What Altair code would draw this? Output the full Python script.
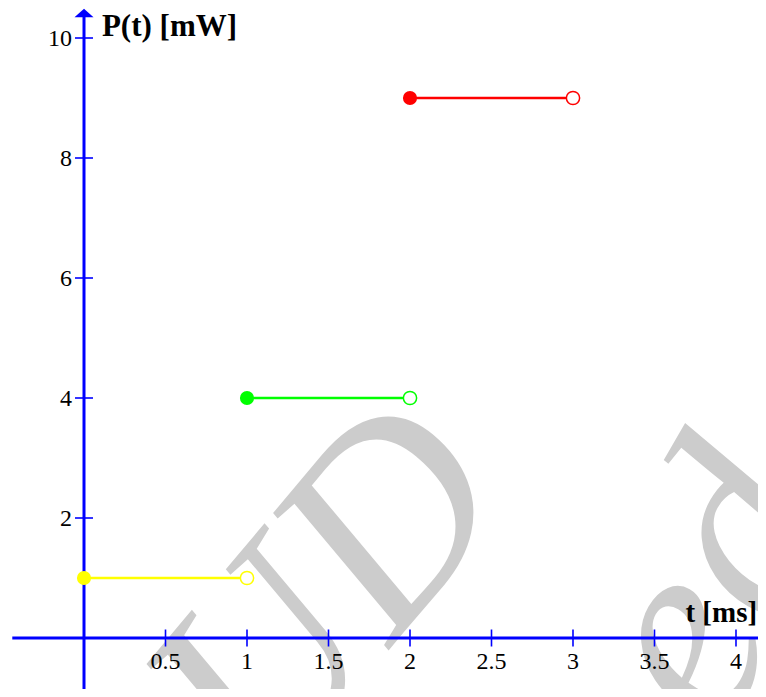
import altair as alt
import pandas as pd

# ---- data ----
seg_names = ["low", "mid", "high"]
seg_t0 = [0, 1, 2]
seg_t1 = [1, 2, 3]
seg_P = [1, 4, 9]
seg_colors = ["#ffff00", "#00ff00", "#ff0000"]

x_ticks = [0.5, 1, 1.5, 2, 2.5, 3, 3.5, 4]
x_tick_labels = ["0.5", "1", "1.5", "2", "2.5", "3", "3.5", "4"]
y_ticks = [2, 4, 6, 8, 10]
y_tick_labels = ["2", "4", "6", "8", "10"]

x_title = "t [ms]"
y_title = "P(t) [mW]"

wm_text = ["UD", "ed"]
wm_x = [1.50, 3.86]
wm_y = [0.70, 0.85]

X_DOMAIN = [-0.4663, 4.135]
Y_DOMAIN = [-0.85, 10.5]
BLUE = "#0000ff"
SERIF = "Liberation Serif"

xs = alt.Scale(domain=X_DOMAIN, nice=False, zero=False)
ys = alt.Scale(domain=Y_DOMAIN, nice=False, zero=False)

seg = pd.DataFrame({"name": seg_names, "t0": seg_t0, "t1": seg_t1, "P": seg_P})
cscale = alt.Scale(domain=seg_names, range=seg_colors)

def X(f):
    return alt.X(f, type="quantitative", scale=xs, axis=None)

def Y(f):
    return alt.Y(f, type="quantitative", scale=ys, axis=None)

# watermark
wm_df = pd.DataFrame({"txt": wm_text, "x": wm_x, "y": wm_y})
wm1 = alt.Chart(wm_df.iloc[[0]]).mark_text(
    font=SERIF, fontStyle="italic", fontSize=270, color="#cccccc",
    angle=310, align="center", baseline="middle"
).encode(x=X("x"), y=Y("y"), text="txt:N")
wm2 = alt.Chart(wm_df.iloc[[1]]).mark_text(
    font=SERIF, fontStyle="italic", fontSize=270, color="#cccccc",
    angle=300, align="center", baseline="middle"
).encode(x=X("x"), y=Y("y"), text="txt:N")

# axes
xaxis_df = pd.DataFrame({"a": [-0.44], "b": [X_DOMAIN[1]], "y": [0]})
xaxis = alt.Chart(xaxis_df).mark_rule(color=BLUE, strokeWidth=3).encode(
    x=X("a"), x2="b", y=Y("y"))
yaxis_df = pd.DataFrame({"x": [0], "a": [Y_DOMAIN[0]], "b": [10.35]})
yaxis = alt.Chart(yaxis_df).mark_rule(color=BLUE, strokeWidth=3).encode(
    x=X("x"), y=Y("a"), y2="b")
arrow_df = pd.DataFrame({"x": [0], "y": [10.417]})
arrow = alt.Chart(arrow_df).mark_point(
    shape="M-1,0.45L0,-0.45L1,0.45Z", filled=True, color=BLUE, opacity=1,
    size=361, strokeWidth=0
).encode(x=X("x"), y=Y("y"))

xt_df = pd.DataFrame({"v": x_ticks, "lab": x_tick_labels, "z": [0] * len(x_ticks)})
xtick = alt.Chart(xt_df).mark_tick(orient="vertical", color=BLUE, size=17,
                                   thickness=1.6, opacity=1).encode(x=X("v"), y=Y("z"))
xlab = alt.Chart(xt_df).mark_text(font=SERIF, fontSize=24, color="#000000",
                                  align="center", baseline="alphabetic", dy=31).encode(
    x=X("v"), y=Y("z"), text="lab:N")

yt_df = pd.DataFrame({"v": y_ticks, "lab": y_tick_labels, "z": [0] * len(y_ticks)})
ytick = alt.Chart(yt_df).mark_tick(orient="horizontal", color=BLUE, size=18,
                                   thickness=1.6, opacity=1).encode(x=X("z"), y=Y("v"))
ylab = alt.Chart(yt_df).mark_text(font=SERIF, fontSize=24, color="#000000",
                                  align="right", baseline="alphabetic", dx=-12, dy=8).encode(
    x=X("z"), y=Y("v"), text="lab:N")

ytitle_df = pd.DataFrame({"txt": [y_title], "x": [0.11], "y": [10.033]})
ytitle = alt.Chart(ytitle_df).mark_text(font=SERIF, fontSize=31, fontWeight="bold",
                                        color="#000000", align="left",
                                        baseline="alphabetic").encode(
    x=X("x"), y=Y("y"), text="txt:N")
xtitle_df = pd.DataFrame({"txt": [x_title], "x": [3.69], "y": [0.267]})
xtitle = alt.Chart(xtitle_df).mark_text(font=SERIF, fontSize=29, fontWeight="bold",
                                        color="#000000", align="left",
                                        baseline="alphabetic").encode(
    x=X("x"), y=Y("y"), text="txt:N")

# data segments
lines = alt.Chart(seg).mark_rule(strokeWidth=2.5).encode(
    x=X("t0"), x2="t1", y=Y("P"),
    color=alt.Color("name:N", scale=cscale, legend=None))
closed = alt.Chart(seg).mark_point(shape="circle", filled=True, size=200, opacity=1).encode(
    x=X("t0"), y=Y("P"), color=alt.Color("name:N", scale=cscale, legend=None))
openp = alt.Chart(seg).mark_point(shape="circle", filled=False, fill="#ffffff",
                                  size=175, strokeWidth=1.5, opacity=1, fillOpacity=1).encode(
    x=X("t1"), y=Y("P"), stroke=alt.Stroke("name:N", scale=cscale, legend=None))

chart = alt.layer(
    wm1, wm2, xaxis, yaxis, arrow, xtick, ytick, xlab, ylab, ytitle, xtitle,
    lines, closed, openp
).properties(
    width=750, height=681, padding=0, autosize=alt.AutoSizeParams(type="none"),
    background="#ffffff"
).configure_view(stroke=None)

chart.save("out.html", embed_options={"renderer": "svg", "actions": False})
